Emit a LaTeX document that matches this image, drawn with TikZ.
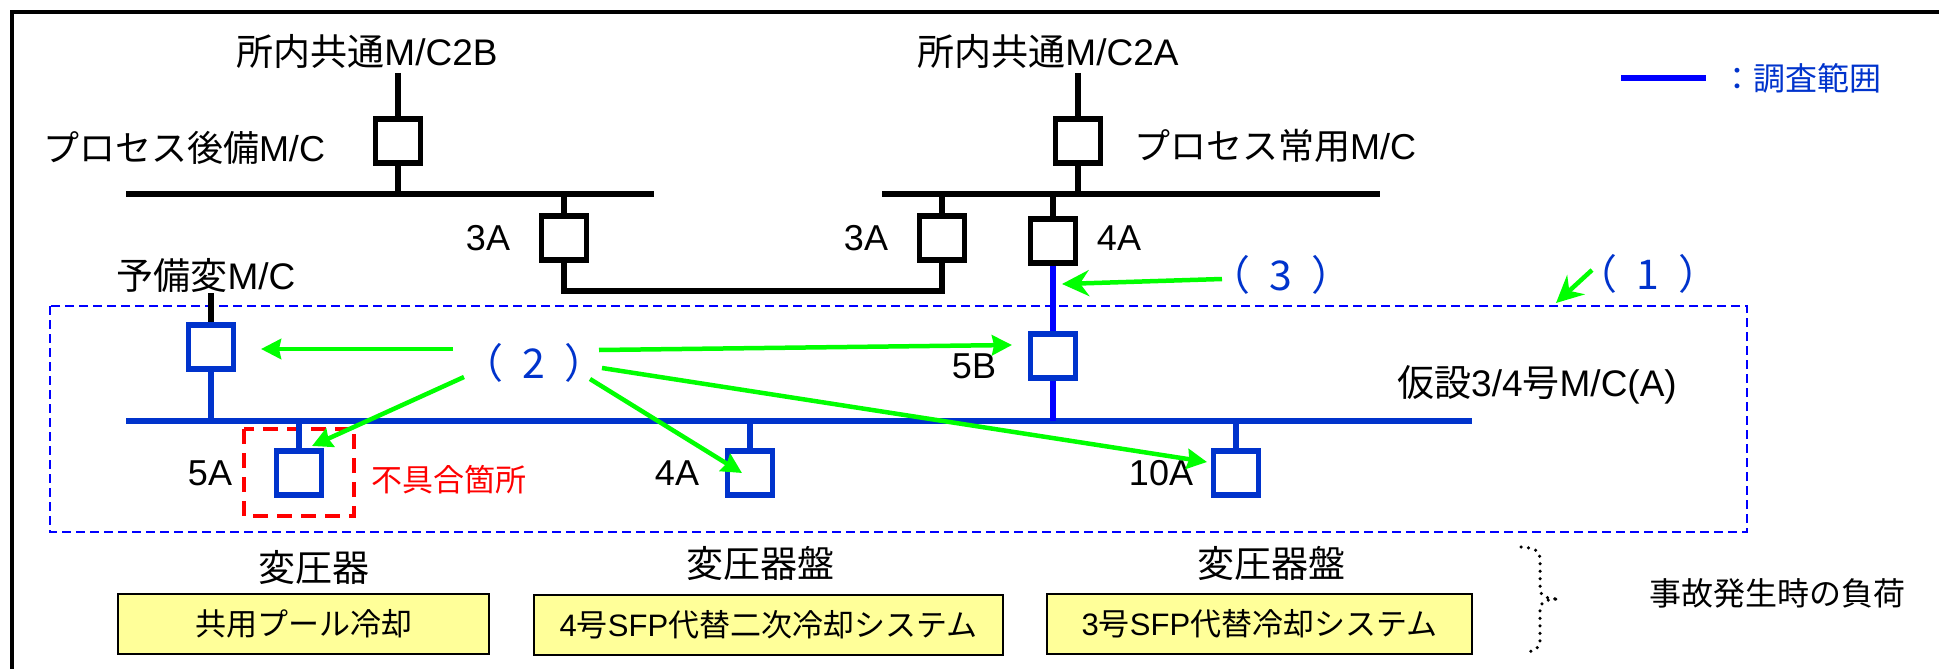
\documentclass[tikz,border=0pt]{standalone}
\usepackage{fontspec}
\setmainfont{Liberation Sans}
\newfontfamily\jpfont{Noto Sans CJK JP}
\usetikzlibrary{arrows.meta}
\definecolor{scopeblue}{RGB}{0,51,204}
\definecolor{pureblue}{RGB}{0,0,255}
\definecolor{markgreen}{RGB}{0,255,0}
\definecolor{loadyellow}{RGB}{255,255,153}
\newcommand{\jp}[1]{{\jpfont #1}}
\newcommand{\numlabel}[1]{{\jpfont （\hspace{19pt}#1\hspace{19pt}）}}
\tikzset{
    lbl/.style={inner sep=0, font=\fontsize{36}{36}\selectfont},
    lblbig/.style={inner sep=0, font=\fontsize{37}{37}\selectfont},
    smalllbl/.style={inner sep=0, font=\fontsize{31}{31}\selectfont},
    numlbl/.style={inner sep=0, text=scopeblue, font=\fontsize{41}{41}\selectfont},
    brk/.style={draw=black, fill=white, line width=5.5, minimum width=45, minimum height=44, inner sep=0},
    brkblue/.style={brk, draw=scopeblue},
    wire/.style={line width=5.5, draw=black},
    wireblue/.style={line width=5.5, draw=scopeblue},
    callout/.style={line width=4.5, draw=markgreen, -{Stealth[length=20,width=20,inset=2]}},
    calloutbig/.style={line width=4.5, draw=markgreen, -{Stealth[length=27,width=26,inset=9]}},
    loadbox/.style={draw=black, fill=loadyellow, line width=2, inner sep=0}
}
\begin{document}
\begin{tikzpicture}[x=1pt, y=-1pt]
    \useasboundingbox (0,0) rectangle (1939,669);
    \draw[line width=4] (12,669) -- (12,12) -- (1939,12);

    % survey area and fault area
    \draw[draw=pureblue, line width=2, dash pattern=on 9pt off 5pt] (50,306) rectangle (1747,532);
    \draw[draw=red, line width=4, dash pattern=on 15pt off 9pt] (244,429) rectangle (354,516);

    % bus ends
    \coordinate (busBl) at (126,194);
    \coordinate (busBr) at (654,194);
    \coordinate (busAl) at (882,194);
    \coordinate (busAr) at (1380,194);
    \coordinate (busTl) at (126,421);
    \coordinate (busTr) at (1472,421);
    \coordinate (feedB) at (398,73);
    \coordinate (feedA) at (1078,73);
    \coordinate (feedS) at (211,293);
    \coordinate (tieL) at (564,291);
    \coordinate (tieR) at (942,291);
    \coordinate (keyL) at (1621,78);
    \coordinate (keyR) at (1706,78);

    % breakers
    \node[brk] (brkB) at (398,141) {};
    \node[brk] (brkA) at (1078,141) {};
    \node[brk] (brkThreeL) at (564,238) {};
    \node[brk] (brkThreeR) at (942,238) {};
    \node[brk] (brkFour) at (1053,241) {};
    \node[brkblue] (brkSpare) at (211,347) {};
    \node[brkblue] (brkFiveB) at (1053,356) {};
    \foreach \name/\x in {brkFiveA/299, brkFourB/750, brkTen/1236} {
        \node[brkblue] (\name) at (\x,473) {};
    }

    % wires
    \draw[wire] (busBl) -- (busBr);
    \draw[wire] (busAl) -- (busAr);
    \draw[wire] (feedB) -- (brkB.north);
    \draw[wire] (brkB.south) -- (brkB.south |- busBl);
    \draw[wire] (feedA) -- (brkA.north);
    \draw[wire] (brkA.south) -- (brkA.south |- busAl);
    \draw[wire] (brkThreeL.north |- busBl) -- (brkThreeL.north);
    \draw[wire] (brkThreeR.north |- busAl) -- (brkThreeR.north);
    \draw[wire] (brkFour.north |- busAl) -- (brkFour.north);
    \draw[wire, line join=miter] (brkThreeL.south) -- (tieL) -- (tieR) -- (brkThreeR.south);
    \draw[wire] (feedS) -- (brkSpare.north);
    \draw[wireblue] (busTl) -- (busTr);
    \draw[wireblue] (brkSpare.south) -- (brkSpare.south |- busTl);
    \draw[wireblue, draw=pureblue] (brkFour.south) -- (brkFiveB.north);
    \draw[wireblue, draw=pureblue] (brkFiveB.south) -- (brkFiveB.south |- busTl);
    \foreach \name in {brkFiveA, brkFourB, brkTen} {
        \draw[wireblue] (\name.north |- busTl) -- (\name.north);
    }
    \draw[wireblue, draw=pureblue] (keyL) -- (keyR);

    % labels
    \node[lblbig] (lblB) at (367,51) {\jp{所内共通}M/C2B};
    \node[lblbig] (lblA) at (1048,51) {\jp{所内共通}M/C2A};
    \node[lbl] (lblBack) at (184,148) {\jp{プロセス後備}M/C};
    \node[lbl] (lblNorm) at (1275,146) {\jp{プロセス常用}M/C};
    \node[lblbig] (lblSpare) at (206,275) {\jp{予備変}M/C};
    \node[lblbig] (lblTemp) at (1537,385) {\jp{仮設}3/4\jp{号}M/C(A)};
    \node[lbl] at (488,238) {3A};
    \node[lbl] at (866,238) {3A};
    \node[lbl] at (1119,238) {4A};
    \node[lbl] at (974,366) {5B};
    \node[lbl] at (210,473) {5A};
    \node[lbl] at (677,473) {4A};
    \node[lbl] at (1161,473) {10A};
    \node[smalllbl, text=red] (lblFault) at (449,480) {\jp{不具合箇所}};
    \node[smalllbl, text=scopeblue, font=\fontsize{32}{32}\selectfont] (lblKey) at (1801,78) {\jp{：調査範囲}};
    \node[numlbl] (numOne) at (1648,274) {\numlabel{1}};
    \node[numlbl] (numTwo) at (534,363) {\numlabel{2}};
    \node[numlbl] (numThree) at (1281,275) {\numlabel{3}};

    % loads
    \node[lblbig] at (314,567) {\jp{変圧器}};
    \node[lblbig] at (760,563) {\jp{変圧器盤}};
    \node[lblbig] at (1271,563) {\jp{変圧器盤}};
    \node[loadbox, smalllbl, minimum width=371, minimum height=60] (loadOne) at (303.5,624) {\jp{共用プール冷却}};
    \node[loadbox, smalllbl, minimum width=469, minimum height=60] (loadTwo) at (768.5,625) {4\jp{号}SFP\jp{代替二次冷却システム}};
    \node[loadbox, smalllbl, minimum width=425, minimum height=60] (loadThree) at (1259.5,624) {3\jp{号}SFP\jp{代替冷却システム}};
    \node[smalllbl, font=\fontsize{32}{32}\selectfont] (lblLoad) at (1777,593) {\jp{事故発生時の負荷}};
    \draw[line width=3.5, line cap=round, dash pattern=on 0pt off 7.5pt] (1521,547) .. controls (1534,548) and (1540,550) .. (1540,560) -- (1540,588) .. controls (1540,596) and (1546,599) .. (1559,599) .. controls (1546,599) and (1540,602) .. (1540,610) -- (1540,640) .. controls (1540,648) and (1535,651) .. (1527,652);

    % arrow ends
    \coordinate (tipOne) at (1556,303);
    \coordinate (tipSpare) at (261,349);
    \coordinate (tipFiveA) at (312,446);
    \coordinate (tipFiveB) at (1012,345);
    \coordinate (tipFourB) at (742,473);
    \coordinate (tipTen) at (1207,462);
    \coordinate (tipThree) at (1062,284);
    \coordinate (tailOne) at (1592,270);
    \coordinate (tailSpare) at (453,349);
    \coordinate (tailFiveA) at (464,377);
    \coordinate (tailFiveB) at (599,350);
    \coordinate (tailFourB) at (590,379);
    \coordinate (tailTen) at (602,368);
    \coordinate (tailThree) at (1222,279);
    \foreach \name in {Spare, FiveA, FiveB, FourB, Ten} {
        \draw[callout] (tail\name) -- (tip\name);
    }
    \draw[calloutbig] (tailOne) -- (tipOne);
    \draw[calloutbig] (tailThree) -- (tipThree);
\end{tikzpicture}
\end{document}
